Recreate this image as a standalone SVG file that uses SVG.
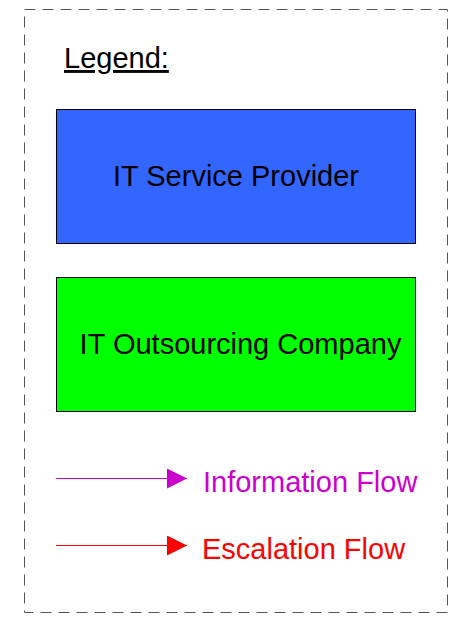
<svg xmlns="http://www.w3.org/2000/svg" width="457" height="618" viewBox="0 0 457 618">
<style>
text{font-family:"Liberation Sans",Arial,sans-serif;font-size:29px}
.box{stroke:#000;stroke-width:1}
</style>
<defs>
<marker id="hm" markerWidth="20" markerHeight="20" refX="20" refY="10" orient="auto" markerUnits="userSpaceOnUse"><path d="M0,0L20,10L0,20z" fill="#CC00CC"/></marker>
<marker id="hr" markerWidth="20" markerHeight="20" refX="20" refY="10" orient="auto" markerUnits="userSpaceOnUse"><path d="M0,0L20,10L0,20z" fill="#FF0000"/></marker>
</defs>
<rect x="24.5" y="9.5" width="423" height="603" fill="#fff" stroke="#555" stroke-width="1" stroke-dasharray="11,7"/>
<text x="64" y="68" text-decoration="underline">Legend:</text>
<g id="it-service-provider">
<rect class="box" x="56.5" y="109.5" width="359" height="134" fill="#3366FF"/>
<text x="236" y="186" text-anchor="middle">IT Service Provider</text>
</g>
<g id="it-outsourcing-company">
<rect class="box" x="56.5" y="277.5" width="359" height="134" fill="#00FF00"/>
<text x="240.5" y="354" text-anchor="middle">IT Outsourcing Company</text>
</g>
<g id="connectors">
<line x1="56" y1="478.5" x2="187" y2="478.5" stroke="#CC00CC" stroke-width="1" marker-end="url(#hm)"/>
<line x1="56" y1="545.5" x2="187" y2="545.5" stroke="#FF0000" stroke-width="1" marker-end="url(#hr)"/>
</g>
<text x="203" y="492" fill="#CC00CC">Information Flow</text>
<text x="202" y="559" fill="#FF0000">Escalation Flow</text>
</svg>
